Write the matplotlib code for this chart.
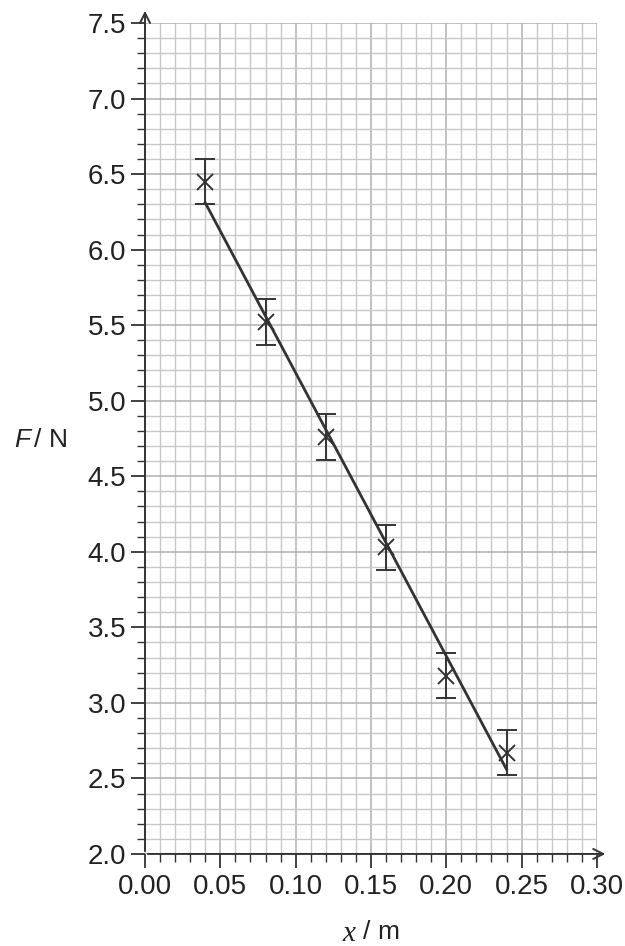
import matplotlib.pyplot as plt
from matplotlib.ticker import MultipleLocator

# ── data ─────────────────────────────────────────────────────
x_vals = [0.04, 0.08, 0.12, 0.16, 0.20, 0.24]
f_vals = [6.45, 5.52, 4.76, 4.03, 3.18, 2.67]
f_err = [0.15, 0.15, 0.15, 0.15, 0.15, 0.15]

# best-fit line drawn by hand on the sheet
line_x = [0.04, 0.24]
line_f = [6.31, 2.56]

x_ticks = [0.00, 0.05, 0.10, 0.15, 0.20, 0.25, 0.30]
y_ticks = [2.0, 2.5, 3.0, 3.5, 4.0, 4.5, 5.0, 5.5, 6.0, 6.5, 7.0, 7.5]

plt.rcParams["font.family"] = ["Liberation Sans", "DejaVu Sans"]
ink = "#333333"
txt = "#222222"

fig = plt.figure(figsize=(6.25, 9.46), dpi=100)
ax = fig.add_axes([0.232, 0.0973, 0.723, 0.8784])

ax.set_xlim(0, 0.30)
ax.set_ylim(2.0, 7.5)

# ── graph paper ──────────────────────────────────────────────
ax.xaxis.set_major_locator(MultipleLocator(0.05))
ax.xaxis.set_minor_locator(MultipleLocator(0.01))
ax.yaxis.set_major_locator(MultipleLocator(0.5))
ax.yaxis.set_minor_locator(MultipleLocator(0.1))
ax.grid(True, which="minor", color="#c8c8c8", linewidth=1.0)
ax.grid(True, which="major", color="#b0b0b0", linewidth=1.1)
ax.set_axisbelow(True)

ax.set_xticks(x_ticks)
ax.set_xticklabels([f"{v:.2f}" for v in x_ticks])
ax.set_yticks(y_ticks)
ax.set_yticklabels([f"{v:.1f}" for v in y_ticks])
ax.tick_params(which="major", direction="out", length=10, width=1.3,
               color=ink, labelsize=20, labelcolor=txt)
ax.tick_params(which="minor", direction="out", length=5.5, width=1.0, color=ink)
ax.tick_params(axis="x", which="major", pad=4.5)
ax.tick_params(axis="y", which="major", pad=3.5)

for s in ax.spines.values():
    s.set_visible(False)

# axes with arrow heads
ax.annotate("", xy=(0, 1.018), xytext=(0, 0), xycoords="axes fraction",
            arrowprops=dict(arrowstyle="->", color=ink, lw=1.4,
                            mutation_scale=18), annotation_clip=False)
ax.annotate("", xy=(1.025, 0), xytext=(0, 0), xycoords="axes fraction",
            arrowprops=dict(arrowstyle="->", color=ink, lw=1.4,
                            mutation_scale=18), annotation_clip=False)

# ── line and points ──────────────────────────────────────────
ax.plot(line_x, line_f, color=ink, linewidth=2.0, zorder=3)
ax.errorbar(x_vals, f_vals, yerr=f_err, fmt="x", color=ink, markersize=12,
            markeredgewidth=1.4, elinewidth=1.4, capsize=7, capthick=1.4,
            zorder=4)

# ── axis labels ──────────────────────────────────────────────
fig.text(14 / 625, 1 - 440 / 946, "F", fontsize=19, color=txt,
         style="italic", ha="left", va="center")
fig.text(34 / 625, 1 - 440 / 946, "/", fontsize=19, color=txt,
         ha="left", va="center")
fig.text(49 / 625, 1 - 440 / 946, "N", fontsize=19, color=txt,
         ha="left", va="center")

fig.text(342 / 625, 1 - 934 / 946, "x", fontsize=21, color=txt,
         style="italic", family=["Liberation Serif"], ha="left", va="center")
fig.text(363 / 625, 1 - 932 / 946, "/", fontsize=19, color=txt,
         ha="left", va="center")
fig.text(377 / 625, 1 - 932 / 946, "m", fontsize=19, color=txt,
         ha="left", va="center")

fig.savefig("out.png", dpi=100)
